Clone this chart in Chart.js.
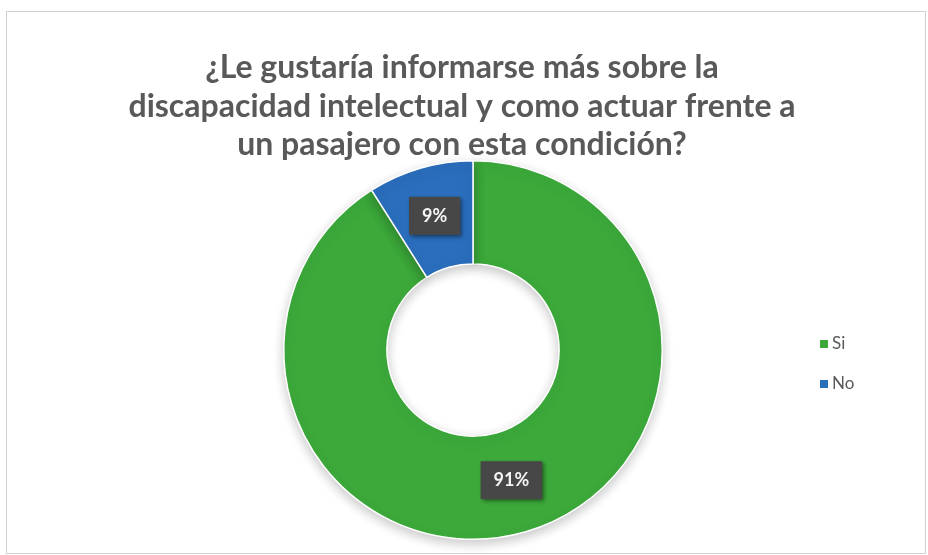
<!DOCTYPE html>
<html>
<head>
<meta charset="utf-8">
<script src="https://cdn.jsdelivr.net/npm/chart.js@4"></script>
<style>
  html, body { margin: 0; padding: 0; background: #fff; }
  #wrap { position: absolute; left: 0; top: 0; width: 928px; height: 555px; }
  #frame { position: absolute; left: 6px; top: 11px; width: 918px; height: 541px; border: 1px solid #d0d0d0; }
  #c { position: absolute; left: 0; top: 0; }
</style>
</head>
<body>
<div id="wrap">
  <div id="frame"></div>
  <canvas id="c" width="928" height="555"></canvas>
</div>
<script>
const titleLines = ["¿Le gustaría informarse más sobre la", "discapacidad intelectual y como actuar frente a", "un pasajero con esta condición?"];
const categories = ["Si", "No"];
const values = [91, 9];
const colors = ["#3ca93a", "#2a6ebd"];

const titlePlugin = {
  id: 'customTitle',
  afterDraw(chart) {
    const ctx = chart.ctx;
    ctx.save();
    ctx.font = 'bold 32px Lato';
    ctx.fillStyle = '#595959';
    ctx.textAlign = 'center';
    ctx.textBaseline = 'middle';
    titleLines.forEach((line, i) => {
      ctx.fillText(line, 462, 68 + i * 38.5);
    });
    ctx.restore();
  }
};

const legendPlugin = {
  id: 'customLegend',
  afterDraw(chart) {
    const ctx = chart.ctx;
    ctx.save();
    ctx.font = '17px Lato';
    ctx.textBaseline = 'middle';
    ctx.textAlign = 'left';
    categories.forEach((cat, i) => {
      const y = 344 + i * 40;
      ctx.fillStyle = colors[i];
      ctx.fillRect(820, y - 4, 8, 8);
      ctx.fillStyle = '#595959';
      ctx.fillText(cat, 832, y);
    });
    ctx.restore();
  }
};

const labelPlugin = {
  id: 'valueLabels',
  afterDatasetsDraw(chart) {
    const ctx = chart.ctx;
    const meta = chart.getDatasetMeta(0);
    const data = chart.data.datasets[0].data;
    meta.data.forEach((arc, i) => {
      const p = arc.tooltipPosition();
      const txt = data[i] + '%';
      ctx.save();
      ctx.font = 'bold 18px Lato';
      const w = ctx.measureText(txt).width + 26;
      const h = 38;
      ctx.shadowColor = 'rgba(0,0,0,0.45)';
      ctx.shadowBlur = 4;
      ctx.shadowOffsetX = 2;
      ctx.shadowOffsetY = 2;
      ctx.fillStyle = '#474747';
      ctx.fillRect(p.x - w / 2, p.y - h / 2 - 2, w, h);
      ctx.shadowColor = 'transparent';
      ctx.fillStyle = '#f4f4f4';
      ctx.textAlign = 'center';
      ctx.textBaseline = 'middle';
      ctx.fillText(txt, p.x, p.y - 2);
      ctx.restore();
    });
  }
};

const shadowPlugin = {
  id: 'arcShadow',
  beforeDatasetsDraw(chart) {
    const ctx = chart.ctx;
    ctx.save();
    ctx.shadowColor = 'rgba(0,0,0,0.22)';
    ctx.shadowBlur = 12;
    ctx.shadowOffsetY = 4;
  },
  afterDatasetsDraw(chart) {
    chart.ctx.restore();
  }
};

new Chart(document.getElementById('c'), {
  type: 'doughnut',
  data: {
    labels: categories,
    datasets: [{
      data: values,
      backgroundColor: colors,
      borderColor: '#ffffff',
      borderWidth: 1.5
    }]
  },
  options: {
    responsive: false,
    animation: false,
    cutout: '45.5%',
    layout: { padding: { top: 160, bottom: 15, left: 100, right: 82 } },
    plugins: {
      title: { display: false },
      legend: { display: false },
      tooltip: { enabled: false }
    }
  },
  plugins: [shadowPlugin, labelPlugin, titlePlugin, legendPlugin]
});
</script>
</body>
</html>
